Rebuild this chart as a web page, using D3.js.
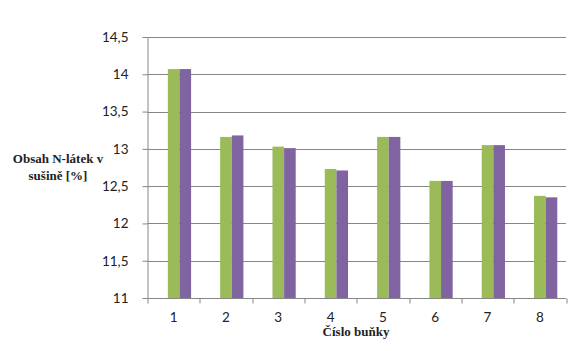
<!DOCTYPE html>
<html>
<head>
<meta charset="utf-8">
<script src="https://cdn.jsdelivr.net/npm/d3@7"></script>
<style>
	body { margin: 0; background: #fff; }
	svg { display: block; }
	.serif-title { font-family: "Liberation Serif", "Times New Roman", serif; font-weight: bold; }
</style>
</head>
<body>
<script>
(function () {
	"use strict";

	var w = 587;
	var h = 351;

	// cell numbers on the x axis
	var cells = ["1", "2", "3", "4", "5", "6", "7", "8"];
	// Excel reserves three slots per cell, the first one stays empty
	var slots = ["empty", "green", "purple"];
	var greenValues = [14.07, 13.16, 13.03, 12.73, 13.16, 12.57, 13.05, 12.37];
	var purpleValues = [14.07, 13.18, 13.01, 12.71, 13.16, 12.57, 13.05, 12.35];
	var yTicks = [11, 11.5, 12, 12.5, 13, 13.5, 14, 14.5];
	var colors = { green: "#9BBB59", purple: "#8064A2" };

	var margin = { top: 37, right: 21, bottom: 53, left: 147.5 };
	var iw = w - margin.left - margin.right;
	var ih = h - margin.top - margin.bottom;

	var svg = d3.select("body").append("svg")
		.attr("width", w)
		.attr("height", h);

	var g = svg.append("g")
		.attr("transform", "translate(" + margin.left + "," + margin.top + ")");

	var x0 = d3.scaleBand().domain(cells).range([0, iw]).padding(0);
	var x1 = d3.scaleBand().domain(slots)
		.range([x0.bandwidth() * 0.75 / 4.5, x0.bandwidth() - x0.bandwidth() * 0.75 / 4.5])
		.padding(0);
	var y = d3.scaleLinear().domain([11, 14.5]).range([ih, 0]);

	// gridlines
	g.append("g").selectAll("line")
		.data(yTicks.slice(1))
		.join("line")
		.attr("x1", 0)
		.attr("x2", iw)
		.attr("y1", (d) => Math.round(y(d)) + 0.5)
		.attr("y2", (d) => Math.round(y(d)) + 0.5)
		.attr("stroke", "#868686")
		.attr("stroke-width", 1);

	var rows = cells.map((c, i) => ({ cell: c, green: greenValues[i], purple: purpleValues[i] }));

	g.append("g").selectAll("g")
		.data(rows)
		.join("g")
		.attr("transform", (d) => "translate(" + x0(d.cell) + ",0)")
		.selectAll("rect")
		.data((d) => ["green", "purple"].map((k) => ({ key: k, value: d[k] })))
		.join("rect")
		.attr("x", (d) => x1(d.key))
		.attr("width", x1.bandwidth())
		.attr("y", (d) => y(d.value))
		.attr("height", (d) => y(11) - y(d.value))
		.attr("fill", (d) => colors[d.key]);

	var fontTick = "Lato, 'Open Sans', sans-serif";

	// y axis
	var yAxis = g.append("g")
		.call(d3.axisLeft(y).tickValues(yTicks).tickSize(5).tickPadding(14)
			.tickFormat((d) => String(d).replace(".", ",")));
	yAxis.select(".domain").attr("stroke", "#868686").attr("d", "M0.5," + ih + "V0");
	yAxis.selectAll(".tick line").attr("stroke", "#868686");
	yAxis.selectAll(".tick text")
		.attr("font-family", fontTick)
		.attr("font-size", 13.5)
		.attr("fill", "#222");

	// x axis, ticks on category boundaries
	var xAxis = g.append("g")
		.attr("transform", "translate(0," + (Math.round(y(11)) + 0.5) + ")");
	xAxis.append("line")
		.attr("x1", 0).attr("x2", iw)
		.attr("stroke", "#868686");
	xAxis.selectAll(".btick")
		.data(cells.concat(["end"]))
		.join("line")
		.attr("class", "btick")
		.attr("x1", (d, i) => Math.round(i * x0.step()) + 0.5)
		.attr("x2", (d, i) => Math.round(i * x0.step()) + 0.5)
		.attr("y1", 0).attr("y2", 5)
		.attr("stroke", "#868686");
	xAxis.selectAll("text")
		.data(cells)
		.join("text")
		.attr("x", (d) => x0(d) + x0.bandwidth() / 2)
		.attr("y", 23)
		.attr("text-anchor", "middle")
		.attr("font-family", fontTick)
		.attr("font-size", 13.5)
		.attr("fill", "#222")
		.text((d) => d);

	// axis titles
	svg.append("text")
		.attr("class", "serif-title")
		.attr("x", 356)
		.attr("y", 336)
		.attr("text-anchor", "middle")
		.attr("font-size", 13)
		.attr("fill", "#222")
		.text("Číslo buňky");

	var yTitle = svg.append("text")
		.attr("class", "serif-title")
		.attr("text-anchor", "middle")
		.attr("font-size", 13)
		.attr("fill", "#222");
	yTitle.append("tspan").attr("x", 58).attr("y", 163).text("Obsah N-látek v");
	yTitle.append("tspan").attr("x", 58).attr("y", 180).text("sušině [%]");
})();
</script>
</body>
</html>
